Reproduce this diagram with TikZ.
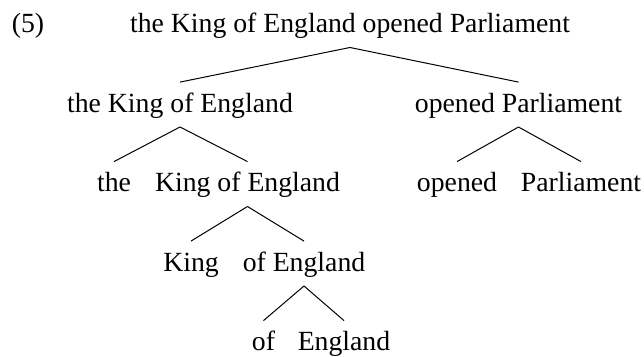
\documentclass[tikz,border=0pt]{standalone}
\usepackage{fontspec}
\setmainfont{Liberation Serif}
\usepackage{tikz}

\begin{document}
\begin{tikzpicture}[x=0.5pt, y=-0.5pt,
		word/.style={anchor=base, inner sep=0pt, text height=9.7pt, text depth=3.05pt, font=\fontsize{13.87pt}{16pt}\selectfont},
		branch/.style={line width=0.5pt}]
		\useasboundingbox (0,0) rectangle (644,357);
		%
		\node (exnum) [word] at (28,33) {(5)};
		\node (s) [word] at (350,33) {the King of England opened Parliament};
		%
		\node (np) [word] at (180,112.5) {the King of England};
		\node (vp) [word] at (518.5,112.5) {opened Parliament};
		%
		\node (det) [word] at (114,192) {the};
		\node (nbar) [word] at (247.5,192) {King of England};
		\node (verb) [word] at (457,192) {opened};
		\node (obj) [word] at (581,192) {Parliament};
		%
		\node (noun) [word] at (191,271.5) {King};
		\node (pp) [word] at (304,271.5) {of England};
		%
		\node (prep) [word] at (263.5,351) {of};
		\node (pobj) [word] at (344,351) {England};
		%
		\draw [branch] ([yshift=-4pt]s.south) -- ([yshift=5.3pt]np.north);
		\draw [branch] ([yshift=-4pt]s.south) -- ([yshift=5.3pt]vp.north);
		\draw [branch] ([yshift=-4pt]np.south) -- ([yshift=5.3pt]det.north);
		\draw [branch] ([yshift=-4pt]np.south) -- ([yshift=5.3pt]nbar.north);
		\draw [branch] ([yshift=-4pt]vp.south) -- ([yshift=5.3pt]verb.north);
		\draw [branch] ([yshift=-4pt]vp.south) -- ([yshift=5.3pt]obj.north);
		\draw [branch] ([yshift=-4pt]nbar.south) -- ([yshift=5.3pt]noun.north);
		\draw [branch] ([yshift=-4pt]nbar.south) -- ([yshift=5.3pt]pp.north);
		\draw [branch] ([yshift=-4pt]pp.south) -- ([yshift=5.3pt]prep.north);
		\draw [branch] ([yshift=-4pt]pp.south) -- ([yshift=5.3pt]pobj.north);
	\end{tikzpicture}
\end{document}
